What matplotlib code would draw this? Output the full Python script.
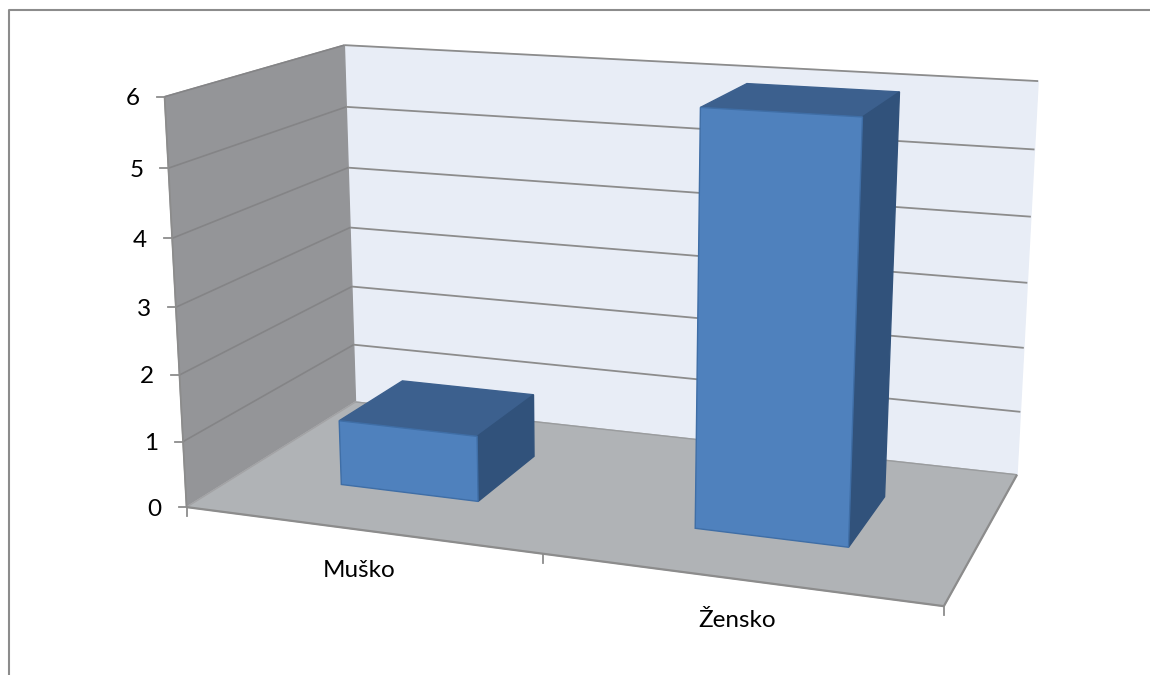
import numpy as np
import matplotlib
matplotlib.use("Agg")
import matplotlib.pyplot as plt

categories = ["Muško", "Žensko"]
values = [1, 6]
y_ticks = [0, 1, 2, 3, 4, 5, 6]
y_max = 6

# where the corners of the 3d box land in the picture: (x, depth, height) -> pixel
box_corners = [
    ((0, 0, 0), (187, 507)),
    ((1, 0, 0), (944, 606)),
    ((0, 1, 0), (355, 402)),
    ((1, 1, 0), (1017, 475)),
    ((0, 0, 1), (164, 97)),
    ((0, 1, 1), (345, 45)),
    ((1, 1, 1), (1038, 81)),
]
bar_width = 0.2
depth_start = 0.3
depth_end = 0.7

rows = []
for (x, d, h), (px, py) in box_corners:
    rows.append([x, d, h, 1, 0, 0, 0, 0, -px * x, -px * d, -px * h, -px])
    rows.append([0, 0, 0, 0, x, d, h, 1, -py * x, -py * d, -py * h, -py])
proj = np.linalg.svd(np.array(rows, dtype=float))[2][-1].reshape(3, 4)


def project(x, d, v):
    p = proj @ np.array([x, d, v / y_max, 1.0])
    return p[0] / p[2], p[1] / p[2]


def face(points, color, edge=None, z=2):
    xy = [project(*p) for p in points]
    ax.fill([q[0] for q in xy], [q[1] for q in xy], facecolor=color,
            edgecolor=edge if edge else color, linewidth=1, zorder=z)


def line(a, b, color="#8c8c8c", lw=1.3):
    pa, pb = project(*a), project(*b)
    ax.plot([pa[0], pb[0]], [pa[1], pb[1]], color=color, lw=lw, zorder=3,
            solid_capstyle="butt")


plt.rcParams["font.family"] = ["Lato", "DejaVu Sans"]
fig = plt.figure(figsize=(11.5, 6.75), dpi=100)
ax = fig.add_axes([0, 0, 1, 1])
ax.set_xlim(0, 1150)
ax.set_ylim(675, 0)
ax.axis("off")

# chart border, only top and left are in the picture
ax.plot([9, 9, 1150], [675, 10, 10], color="#8c8c8c", lw=1.5)

# walls and floor
face([(0, 1, 0), (1, 1, 0), (1, 1, y_max), (0, 1, y_max)], "#e8edf6")
face([(0, 0, 0), (0, 1, 0), (0, 1, y_max), (0, 0, y_max)], "#949598")
face([(0, 0, 0), (1, 0, 0), (1, 1, 0), (0, 1, 0)], "#b0b3b6")

# gridlines run along both walls
for t in y_ticks[1:]:
    line((0, 0, t), (0, 1, t), "#848486", 1.2)
    line((0, 1, t), (1, 1, t))
    px, py = project(0, 0, t)
    ax.plot([px - 8, px], [py, py], color="#8c8c8c", lw=1.3)
line((0, 0, 0), (0, 1, 0), "#a3a3a5", 1)
line((0, 1, 0), (1, 1, 0), "#9a9c9e", 1)
line((0, 0, 0), (0, 0, y_max), "#8c8c8c")
line((0, 0, 0), (1, 0, 0), "#8c8c8c", 1.6)
line((1, 0, 0), (1, 1, 0), "#8c8c8c", 1.6)

px, py = project(0, 0, 0)
ax.plot([px - 8, px], [py, py], color="#8c8c8c", lw=1.3)
for u in [0, 0.5, 1]:
    px, py = project(u, 0, 0)
    ax.plot([px, px], [py, py + 9], color="#8c8c8c", lw=1.3)

for t in y_ticks:
    px, py = project(0, 0, t)
    ax.text(px - 25, py + 2, str(t), fontsize=17.5, ha="right", va="center", color="black")

# bars
for i, (name, val) in enumerate(zip(categories, values)):
    mid = (i + 0.5) / len(categories)
    x0, x1 = mid - bar_width / 2, mid + bar_width / 2
    face([(x0, depth_start, val), (x1, depth_start, val), (x1, depth_end, val), (x0, depth_end, val)],
         "#3c608e", z=4)
    face([(x1, depth_start, 0), (x1, depth_end, 0), (x1, depth_end, val), (x1, depth_start, val)],
         "#31527b", z=4)
    face([(x0, depth_start, 0), (x1, depth_start, 0), (x1, depth_start, val), (x0, depth_start, val)],
         "#4f81bd", "#3f6ea6", z=5)
    px, py = project(mid, 0, 0)
    ax.text(px, py + 41, name, fontsize=17.5, ha="center", va="center", color="black")

fig.savefig("out.png", dpi=100)
